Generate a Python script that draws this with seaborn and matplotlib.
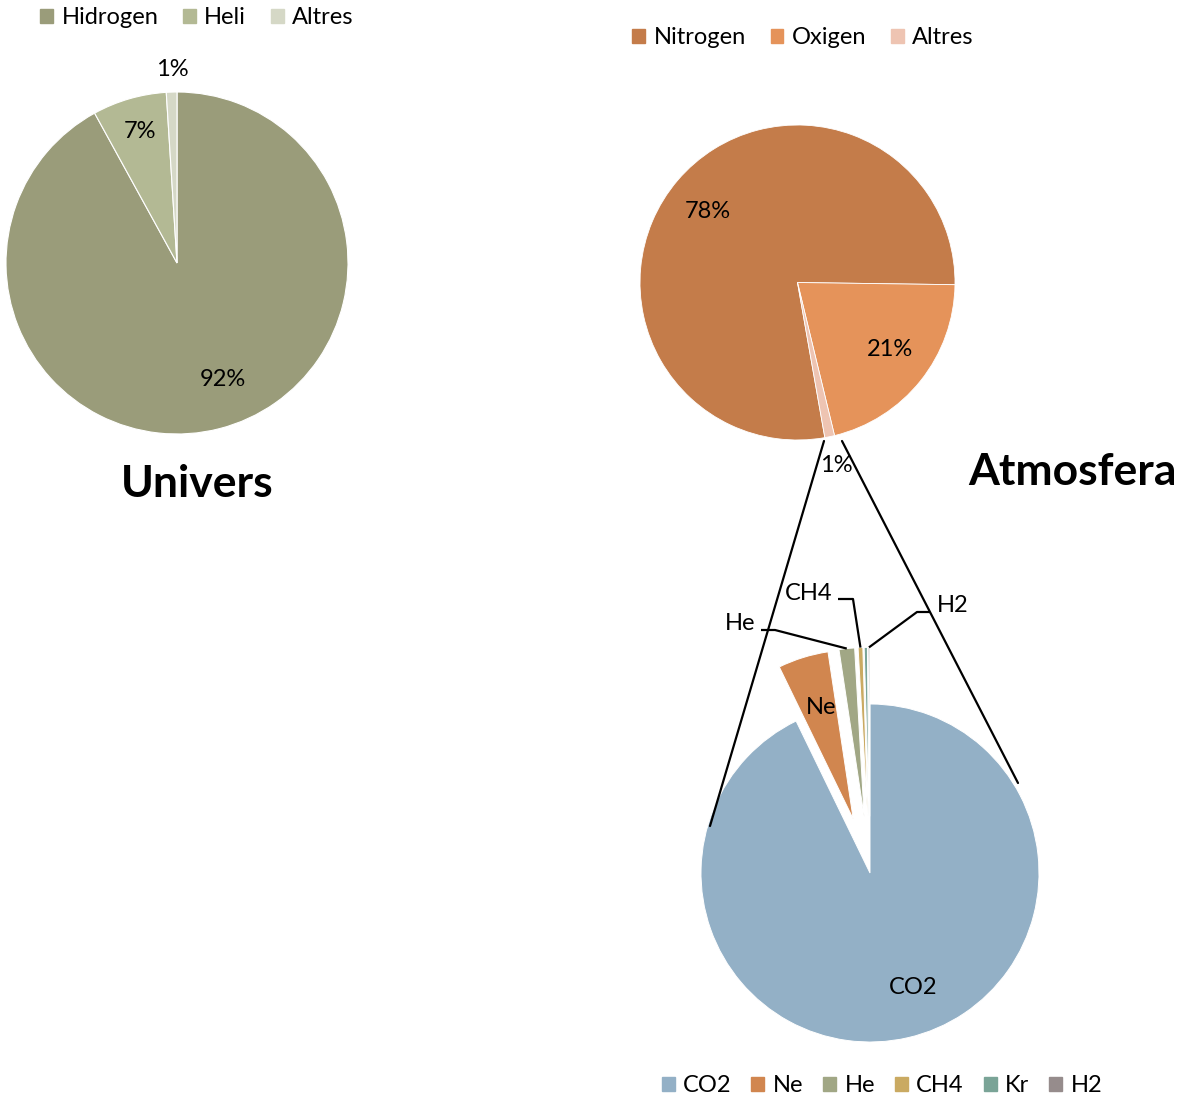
import numpy as np
import matplotlib
matplotlib.use("Agg")
import matplotlib.pyplot as plt
import seaborn as sns
from matplotlib.patches import Patch

# ---------------- data ----------------
univ_labels = ["Hidrogen", "Heli", "Altres"]
univ_values = [92, 7, 1]
univ_pct = ["92%", "7%", "1%"]

atm_labels = ["Nitrogen", "Oxigen", "Altres"]
atm_values = [78, 21, 1]
atm_pct = ["78%", "21%", "1%"]

gas_labels = ["CO2", "Ne", "He", "CH4", "Kr", "H2"]
gas_values = [350, 18.18, 5.6, 1.7, 1.14, 0.55]

titles = ["Univers", "Atmosfera"]

# ---------------- style ----------------
univ_colors = ["#9A9C7A", "#B3B994", "#D5D8C6"]
atm_colors = ["#C47C4A", "#E5935A", "#EEC4B2"]
gas_colors = ["#93B0C6", "#D1864F", "#A1A785", "#CAAA62", "#7AA497", "#968C8C"]

sns.set_theme(style="white")
plt.rcParams["font.family"] = ["Lato", "DejaVu Sans"]
plt.rcParams["text.color"] = "black"
plt.rcParams["legend.labelcolor"] = "black"

W, H = 1190, 1102
fig = plt.figure(figsize=(W / 100, H / 100), dpi=100)
ax = fig.add_axes([0, 0, 1, 1])


def P(x, y):
    return (x, H - y)


FS = 17

# Univers pie
r1 = 171
w_univ, _ = ax.pie(univ_values, colors=univ_colors, startangle=90, counterclock=False,
                   center=P(177, 263), radius=r1,
                   wedgeprops=dict(edgecolor="white", linewidth=0.8))
for txt, pos in zip(univ_pct, [(223, 379), (140, 131), (172, 70)]):
    ax.text(*P(*pos), txt, ha="center", va="center", fontsize=FS, color="black")

# Atmosfera pie
r2 = 157.5
w_atm, _ = ax.pie(atm_values, colors=atm_colors, startangle=-80, counterclock=False,
                  center=P(797.5, 282.5), radius=r2,
                  wedgeprops=dict(edgecolor="white", linewidth=0.6))
for txt, pos in zip(atm_pct, [(708, 211), (890, 349), (836, 465)]):
    ax.text(*P(*pos), txt, ha="center", va="center", fontsize=FS, color="black")

# breakdown pie
r3 = 169
explode = [0] + [0.335 * r3] * (len(gas_values) - 1)
w_gas, _ = ax.pie(gas_values, colors=gas_colors, startangle=90, counterclock=False,
                  center=P(870, 873), radius=r3, explode=explode,
                  wedgeprops=dict(edgecolor="white", linewidth=0.7))
ax.text(*P(913, 988), "CO2", ha="center", va="center", fontsize=FS, color="black")
ax.text(*P(821, 707), "Ne", ha="center", va="center", fontsize=FS, color="black")


def outer_mid(w):
    th = np.deg2rad(0.5 * (w.theta1 + w.theta2))
    cx, cy = w.center
    return cx + w.r * np.cos(th), cy + w.r * np.sin(th)


# leader labels
he = outer_mid(w_gas[2])
ch4 = outer_mid(w_gas[3])
h2 = outer_mid(w_gas[5])
ax.text(*P(740, 623), "He", ha="center", va="center", fontsize=FS, color="black")
ax.text(*P(809, 593), "CH4", ha="center", va="center", fontsize=FS, color="black")
ax.text(*P(953, 605), "H2", ha="center", va="center", fontsize=FS, color="black")
lk = dict(color="black", lw=1.6, solid_capstyle="butt")
for pts, end in [([(761, 630), (775, 630)], he),
                 ([(838, 599), (853, 599)], ch4),
                 ([(930, 612), (917, 612)], h2)]:
    xs = [p[0] for p in pts] + [end[0]]
    ys = [H - p[1] for p in pts] + [end[1]]
    ax.plot(xs, ys, **lk)

# connector lines
ax.plot([824, 710], [H - 441, H - 826], color="black", lw=1.6)
ax.plot([842, 1018], [H - 441, H - 783], color="black", lw=1.6)

# titles
ax.text(*P(197, 484), titles[0], ha="center", va="center", fontsize=32,
        fontweight="bold", color="black")
ax.text(*P(1073, 472), titles[1], ha="center", va="center", fontsize=32,
        fontweight="bold", color="black")

ax.set_xlim(0, W)
ax.set_ylim(0, H)
ax.set_aspect("auto")
ax.axis("off")

# legends
legkw = dict(loc="center", frameon=False, fontsize=FS, handlelength=0.55, handleheight=0.55,
             handletextpad=0.35, borderpad=0, borderaxespad=0, labelcolor="black")
fig.legend(handles=[Patch(color=c, label=l) for c, l in zip(univ_colors, univ_labels)],
           bbox_to_anchor=(197 / W, 1 - 18 / H), ncol=3, columnspacing=1.05, **legkw)
fig.legend(handles=[Patch(color=c, label=l) for c, l in zip(atm_colors, atm_labels)],
           bbox_to_anchor=(803 / W, 1 - 38 / H), ncol=3, columnspacing=1.05, **legkw)
fig.legend(handles=[Patch(color=c, label=l) for c, l in zip(gas_colors, gas_labels)],
           bbox_to_anchor=(882 / W, 1 - 1086 / H), ncol=6, columnspacing=0.85, **legkw)

fig.savefig("out.png", dpi=100)
